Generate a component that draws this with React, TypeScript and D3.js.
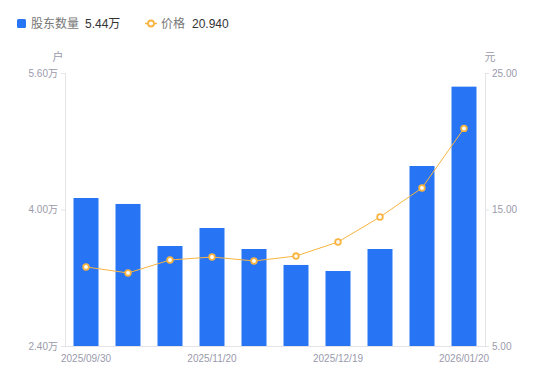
import React from "react";
import * as d3 from "d3";

const dates = [
  "2025/09/30", "2025/10/20", "2025/10/31", "2025/11/20", "2025/11/28",
  "2025/12/10", "2025/12/19", "2025/12/31", "2026/01/09", "2026/01/20",
];
const holders = [4.135, 4.065, 3.572, 3.783, 3.537, 3.35, 3.279, 3.537, 4.51, 5.44];
const prices = [10.79, 10.35, 11.3, 11.52, 11.23, 11.59, 12.62, 14.45, 16.58, 20.94];
const leftTicks = [2.4, 4.0, 5.6];
const rightTicks = [5, 15, 25];
const shownDates = ["2025/09/30", "2025/11/20", "2025/12/19", "2026/01/20"];

const W = 550, H = 381;
const M = { left: 65, right: 485, top: 73, bottom: 346 };
const BAR = "#2775F5";
const LINE = "#F9B440";
const AX = "#e3e3e8";
const TXT = "#9a9aab";
const FONT = "'Liberation Sans', 'Noto Sans CJK SC', sans-serif";

export default function App() {
  const xc = d3.scaleBand<string>().domain(dates).range([M.left, M.right]);
  const yL = d3.scaleLinear().domain([2.4, 5.6]).range([M.bottom, M.top]);
  const yR = d3.scaleLinear().domain([5, 25]).range([M.bottom, M.top]);
  const cx = (d: string) => (xc(d) as number) + xc.bandwidth() / 2;
  const bw = 25;
  const line = d3.line<number>().x((_, i) => cx(dates[i])).y((v) => yR(v));
  return (
    <svg width={W} height={H} style={{ position: "absolute", left: 0, top: 0, fontFamily: FONT }}>
      {/* legend */}
      <rect x={17} y={19} width={9} height={9} rx={1.5} fill={BAR} />
      <text x={31} y={28} fontSize={12} fill="#777">股东数量</text>
      <text x={85} y={28} fontSize={12} fill="#333">5.44万</text>
      <line x1={145} x2={157} y1={23.5} y2={23.5} stroke={LINE} strokeWidth={1.5} />
      <circle cx={151} cy={23.5} r={3} fill="#fff" stroke={LINE} strokeWidth={1.8} />
      <text x={161} y={28} fontSize={12} fill="#777">价格</text>
      <text x={192} y={28} fontSize={12} fill="#333">20.940</text>

      {/* axis titles */}
      <text x={58} y={61} fontSize={11} fill={TXT} textAnchor="middle">户</text>
      <text x={490} y={61} fontSize={11} fill={TXT} textAnchor="middle">元</text>

      {/* axes */}
      <line x1={M.left + 0.5} x2={M.left + 0.5} y1={M.top} y2={M.bottom} stroke={AX} />
      <line x1={M.right + 0.5} x2={M.right + 0.5} y1={M.top} y2={M.bottom} stroke={AX} />
      <line x1={M.left} x2={M.right} y1={M.bottom + 0.5} y2={M.bottom + 0.5} stroke={AX} />
      {leftTicks.map((t) => (
        <g key={"l" + t}>
          <line x1={M.left - 4} x2={M.left} y1={yL(t) + 0.5} y2={yL(t) + 0.5} stroke={AX} />
          <text x={M.left - 7} y={yL(t) + 3.5} fontSize={10} fill={TXT} textAnchor="end">
            {t.toFixed(2)}万
          </text>
        </g>
      ))}
      {rightTicks.map((t) => (
        <g key={"r" + t}>
          <line x1={M.right} x2={M.right + 4} y1={yR(t) + 0.5} y2={yR(t) + 0.5} stroke={AX} />
          <text x={M.right + 7} y={yR(t) + 3.5} fontSize={10} fill={TXT} textAnchor="start">
            {t.toFixed(2)}
          </text>
        </g>
      ))}
      {shownDates.map((d) => (
        <text key={d} x={cx(d)} y={362} fontSize={10} fill={TXT} textAnchor="middle">{d}</text>
      ))}

      {/* bars */}
      {dates.map((d, i) => (
        <rect key={d} x={cx(d) - bw / 2} y={yL(holders[i])} width={bw} height={M.bottom - yL(holders[i])} fill={BAR} />
      ))}

      {/* line */}
      <path d={line(prices) || ""} fill="none" stroke={LINE} strokeWidth={1} />
      {prices.map((p, i) => (
        <circle key={i} cx={cx(dates[i])} cy={yR(p)} r={2.8} fill="#fff" stroke={LINE} strokeWidth={1.8} />
      ))}
    </svg>
  );
}
